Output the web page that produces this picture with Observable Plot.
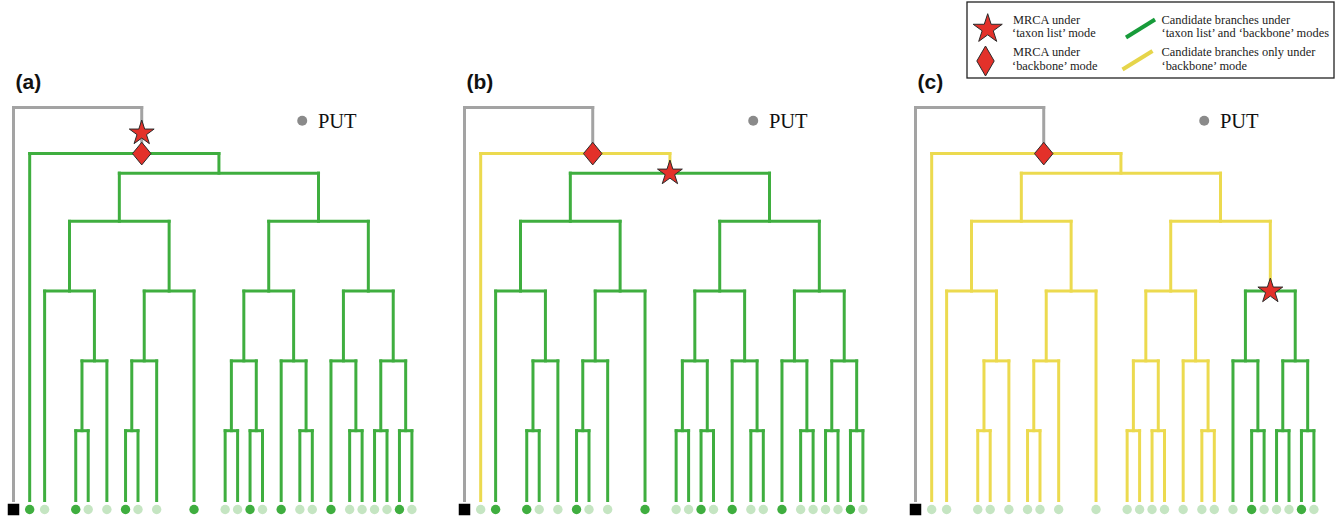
<!DOCTYPE html>
<html>
<head>
<meta charset="utf-8">
<script src="https://cdn.jsdelivr.net/npm/d3@7"></script>
<script src="https://cdn.jsdelivr.net/npm/@observablehq/plot@0.6"></script>
<style>
  html, body { margin: 0; padding: 0; background: #fff; }
  #wrap { position: relative; width: 1341px; height: 519px; overflow: hidden; }
  #wrap svg { position: absolute; left: 0; top: 0; }
</style>
</head>
<body>
<div id="wrap"></div>
<script>
// ---------- data ----------
const panels = ["a", "b", "c"];
const panelLabels = ["(a)", "(b)", "(c)"];

// tip order positions (in tip-slot units)
const leafNames = ["OG","t1","t2","t3","t4","t5","t6","t7","t8","t9","t10","t11","t12",
                   "t13","t14","t15","t16","t17","t18","t19","t20","t21","t22","t23"];
const leafPos   = [0, 1.3, 2.5, 5, 6, 7.5, 9, 10, 11.5, 14.5, 17, 18, 19,
                   20, 21.5, 23, 24, 25.5, 27, 28, 29, 30, 31, 32];

// topology (nested lists)
const treeShape = ["OG", ["t1", [
  [["t2", [["t3","t4"],"t5"]], [[["t6","t7"],"t8"],"t9"]],
  [[[["t10","t11"],["t12","t13"]], ["t14",["t15","t16"]]],
   [["t17",["t18","t19"]], [["t20","t21"],["t22","t23"]]]]
]]];

// drawn node height for each topological rank (0 = tips)
const rankHeight = [0, 1, 2, 3, 4, 4.69, 4.97, 5.63];
// where the root branch joins the ingroup node
const ingroupX = 10.3;

// sampled taxa ("taxon list") in each panel
const sampledA = ["t1","t3","t6","t9","t12","t14","t17","t22"];
const sampledB = ["t2","t3","t6","t9","t12","t14","t17","t22"];
const sampledC = ["t18","t22"];
const sampledLists = [sampledA, sampledB, sampledC];

// ---------- styles ----------
const GREEN = "#3fae3f", YELLOW = "#ecda4f", GRAY = "#a3a3a3",
      LIGHT = "#c5e5c2", RED = "#e3312a";

// ---------- tree layout ----------
const root = d3.hierarchy(treeShape, d => Array.isArray(d) ? d : null);
const posOf = new Map(leafNames.map((n, i) => [n, leafPos[i]]));
root.eachAfter(n => {
  n.h = rankHeight[n.height];
  if (!n.children) n.x = posOf.get(n.data);
  else n.x = (n.children[0].x + n.children[n.children.length - 1].x) / 2;
});
const ingroup = root.children[1];
ingroup.x = ingroupX;

function mrca(names) {
  const leaves = root.leaves().filter(l => names.includes(l.data));
  return leaves.reduce((a, b) => {
    const anc = new Set(a.ancestors());
    let c = b;
    while (!anc.has(c)) c = c.parent;
    return c;
  });
}

const catOrder = {outside: 0, backbone: 1, taxon: 2};
const segs = [], tips = [], og = [], diamonds = [], stars = [];
panels.forEach((p, i) => {
  const tM = mrca(sampledLists[i]);
  const bM = ingroup;
  const tSet = new Set(tM.descendants());
  const bSet = new Set(bM.descendants());
  root.descendants().forEach(n => {
    if (n.parent) {
      const cat = (tSet.has(n) && n !== tM) ? "taxon" : (bSet.has(n) && n !== bM) ? "backbone" : "outside";
      segs.push({panel: p, x1: n.x, x2: n.x, y1: n.h, y2: n.parent.h, cat});
    }
    if (n.children) {
      const cat = tSet.has(n) ? "taxon" : bSet.has(n) ? "backbone" : "outside";
      segs.push({panel: p, x1: n.children[0].x, x2: n.children[n.children.length - 1].x, y1: n.h, y2: n.h, cat});
    }
  });
  root.leaves().forEach(l => {
    if (l.data === "OG") og.push({panel: p, x: l.x, h: l.h});
    else tips.push({panel: p, x: l.x, h: l.h, cat: sampledLists[i].includes(l.data) ? "sampled" : "unsampled"});
  });
  diamonds.push({panel: p, x: bM.x, h: bM.h});
  stars.push({panel: p, x: tM.x, h: tM.h, same: tM === bM});
});
segs.sort((a, b) => catOrder[a.cat] - catOrder[b.cat]);

const labelData = panels.map((p, i) => ({panel: p, label: panelLabels[i]}));
const putData = panels.map(p => ({panel: p, label: "PUT"}));

// custom diamond symbol (wider than d3's)
const treeDiamond = {
  draw(ctx, size) {
    const r = Math.sqrt(size / Math.PI), w = r * 0.82;
    ctx.moveTo(0, -r); ctx.lineTo(w, 0); ctx.lineTo(0, r); ctx.lineTo(-w, 0); ctx.closePath();
  }
};

const UX = 12.45, UY = 69.8;
const chart = Plot.plot({
  width: 1341,
  height: 519,
  margin: 0,
  x: {domain: [0, 32], range: [13, 13 + 32 * UX], axis: null},
  y: {domain: [0, 6], range: [500, 500 - 6 * UY], axis: null},
  fx: {domain: panels, range: [0, 1353], padding: 0, axis: null},
  color: {type: "ordinal",
          domain: ["outside", "backbone", "taxon", "sampled", "unsampled"],
          range: [GRAY, YELLOW, GREEN, GREEN, LIGHT]},
  marks: [
    Plot.link(segs, {fx: "panel", x1: "x1", y1: "y1", x2: "x2", y2: "y2",
      stroke: "cat", strokeWidth: 3, strokeLinecap: "square"}),
    Plot.dot(tips, {fx: "panel", x: "x", y: "h", dy: 9, r: 4.7, fill: "cat"}),
    Plot.dot(og, {fx: "panel", x: "x", y: "h", dy: 9, r: 6.5, symbol: "square", fill: "black"}),
    Plot.dot(diamonds, {fx: "panel", x: "x", y: "h", r: 11.3, symbol: treeDiamond,
      fill: RED, stroke: "#2b2b2b", strokeWidth: 1}),
    Plot.dot(stars.filter(d => !d.same), {fx: "panel", x: "x", y: "h", r: 7.8, symbol: "star",
      fill: RED, stroke: "#2b2b2b", strokeWidth: 1}),
    Plot.dot(stars.filter(d => d.same), {fx: "panel", x: "x", y: "h", dy: -20.5, r: 7.8, symbol: "star",
      fill: RED, stroke: "#2b2b2b", strokeWidth: 1}),
    Plot.text(labelData, {fx: "panel", x: () => 0.16, y: () => 5.9, text: "label",
      textAnchor: "start", lineAnchor: "bottom", fontFamily: "Liberation Sans, Arial, sans-serif",
      fontWeight: "bold", fontSize: 21, fill: "#111"}),
    Plot.dot(putData, {fx: "panel", x: () => 23.19, y: () => 5.44, r: 5, fill: "#8a8a8a"}),
    Plot.text(putData, {fx: "panel", x: () => 24.45, y: () => 5.34, text: "label",
      textAnchor: "start", lineAnchor: "bottom", fontFamily: "Liberation Serif, Times New Roman, serif",
      fontSize: 20.5, fill: "#111"})
  ]
});
document.getElementById("wrap").appendChild(chart);

// ---------- legend ----------
const legendLeft = ["MRCA under", "\u2018taxon list\u2019 mode", "MRCA under", "\u2018backbone\u2019 mode"];
const legendRight = ["Candidate branches under", "\u2018taxon list\u2019 and \u2018backbone\u2019 modes",
                     "Candidate branches only under", "\u2018backbone\u2019 mode"];
const lg = d3.create("svg").attr("width", 1341).attr("height", 82).style("pointer-events", "none");
lg.append("rect").attr("x", 967).attr("y", 2).attr("width", 367).attr("height", 76)
  .attr("fill", "#fff").attr("stroke", "#222").attr("stroke-width", 1.3);
lg.append("path").attr("transform", "translate(987.7,29)")
  .attr("d", d3.symbol(d3.symbolStar, 15.3 * 15.3 / 0.8908)())
  .attr("fill", RED).attr("stroke", "#2b2b2b").attr("stroke-width", 1);
lg.append("path").attr("transform", "translate(985.5,61)")
  .attr("d", "M0,-15L8.7,0L0,15L-8.7,0Z")
  .attr("fill", RED).attr("stroke", "#2b2b2b").attr("stroke-width", 1);
lg.append("line").attr("x1", 1126).attr("y1", 37.5).attr("x2", 1155).attr("y2", 19.5)
  .attr("stroke", "#179b3a").attr("stroke-width", 4);
lg.append("line").attr("x1", 1122.5).attr("y1", 69.5).attr("x2", 1152.5).attr("y2", 51)
  .attr("stroke", "#e6d54a").attr("stroke-width", 4);
const baselines = [23.8, 37.3, 56, 69.5];
legendLeft.forEach((t, i) => lg.append("text").attr("x", i % 2 ? 1012 : 1013).attr("y", baselines[i])
  .attr("font-family", "Liberation Serif, Times New Roman, serif").attr("font-size", 12.4)
  .attr("fill", "#222").text(t));
legendRight.forEach((t, i) => lg.append("text").attr("x", 1161.5).attr("y", baselines[i])
  .attr("font-family", "Liberation Serif, Times New Roman, serif").attr("font-size", 12.4)
  .attr("fill", "#222").text(t));
document.getElementById("wrap").appendChild(lg.node());
</script>
</body>
</html>
